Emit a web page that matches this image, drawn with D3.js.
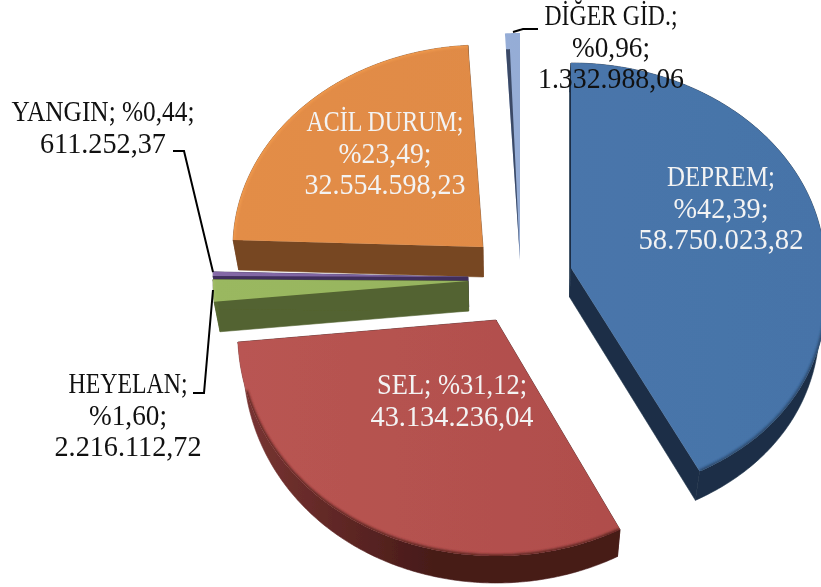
<!DOCTYPE html>
<html><head><meta charset="utf-8">
<script src="https://cdn.jsdelivr.net/npm/d3@7/dist/d3.min.js"></script>
<style>html,body{margin:0;padding:0;background:#fff}svg{display:block}
text{font-family:"Liberation Serif",serif;font-size:29px;text-anchor:middle}</style>
</head><body><svg id="c" width="821" height="587"></svg>
<script>
const categories=["DEPREM","SEL","HEYELAN","YANGIN","ACİL DURUM","DİĞER GİD."];
const percents=[42.39,31.12,1.60,0.44,23.49,0.96];
const amounts=["58.750.023,82","43.134.236,04","2.216.112,72","611.252,37","32.554.598,23","1.332.988,06"];
// layout of each exploded slice (not data): apex and quadrant radii
const layout=[
 {ax:571,ay:268,rx:254,ryT:205,ryB:229,q:.113,d:29,top:["#4b78ad","#4673a8"],wall:["#1b2f47","#1b2f47"],cut:"#1b2f47",bevel:"#24405f",bw:.8,bMin:.05},
 {ax:496,ay:320,rx:258,ryT:205,ryB:236,q:.05,d:27,top:["#b95552","#ac4b49"],wall:["#7a3533","#461a18"],cut:"#461a18",bevel:"#5f2523",bw:1,bMin:.3},
 {ax:468,ay:281,rx:255,ryT:205,ryB:222,q:0,d:30,top:["#9ab860","#93b05b"],wall:["#566731","#536330"],cut:"#536330",bevel:"#a9c46f",bw:.5,bMin:-1},
 {ax:468,ay:277,rx:255,ryT:150,ryB:222,q:0,d:30,top:["#8468a6","#6c5a96"],wall:["#3f2f5c","#3f2f5c"],cut:"#3f2f5c",bevel:"#9a82ba",bw:.4,bMin:-1},
 {ax:483,ay:247,rx:250,ryT:202,ryB:222,q:0,d:30,top:["#e38d47","#dd8844"],wall:["#774621","#774621"],cut:"#774621",bevel:"#f39c50",bw:.8,bMin:-1},
 {ax:520,ay:260,rx:250,ryT:227,ryB:227,q:0,d:0,top:["#9bb1d9","#8fa8d3"],wall:["#34435c","#34435c"],cut:"#3b4a66",bevel:"#9bb1d9",bw:0,bMin:-1}
];
const drawOrder=[5,4,3,2,1,0];
const labels=[
 {x:721,y:186,color:"#f3f3f3",widths:[108,95,165],lines:d=>[d.c+";",d.p+";",d.a]},
 {x:452,y:394,color:"#f3f3f3",widths:[150,163],lines:d=>[d.c+"; "+d.p+";",d.a]},
 {x:128,y:393,color:"#111",widths:[119,78,147],lines:d=>[d.c+";",d.p+";",d.a]},
 {x:103,y:121,color:"#111",widths:[183,126],lines:d=>[d.c+"; "+d.p+";",d.a]},
 {x:385,y:131,color:"#f3f3f3",widths:[157,93,161],lines:d=>[d.c+";",d.p+";",d.a]},
 {x:611,y:25,color:"#111",widths:[133,78,146],lines:d=>[d.c+";",d.p+";",d.a]}
];
const leaders=[
 [[173,151],[184,151],[213,272]],
 [[193,393],[204,393],[213,290]],
 [[513,32],[523,29],[538,29]]
];

const svg=d3.select("#c"), defs=svg.append("defs");
defs.append("filter").attr("id","soft").attr("filterUnits","userSpaceOnUse").attr("x",0).attr("y",0).attr("width",821).attr("height",587)
  .append("feGaussianBlur").attr("stdDeviation",1.3);
defs.append("filter").attr("id","aa").attr("filterUnits","userSpaceOnUse").attr("x",0).attr("y",0).attr("width",821).attr("height",587)
  .append("feGaussianBlur").attr("stdDeviation",.35);

const arcs=d3.pie().sort(null).value(d=>d)(percents);
const line=d3.line();
function proj(l,t){
  const u=Math.sin(t),v=-Math.cos(t);
  return [l.ax+l.rx*u*(1+(v>0?l.q:0)*v), l.ay+(v<0?l.ryT:l.ryB)*v];
}
// lower rim: shifted down and pulled slightly toward the vanishing column
const lower=(p,l)=>[p[0]+(500-p[0])*.021,p[1]+l.d];
function arcPts(l,a0,a1){
  const n=Math.max(8,Math.ceil((a1-a0)*90));
  return d3.range(n+1).map(i=>proj(l,a0+(a1-a0)*i/n));
}
arcs.forEach((a,i)=>{
  const g=defs.append("linearGradient").attr("id","top"+i).attr("gradientUnits","userSpaceOnUse");
  const w=defs.append("linearGradient").attr("id","wall"+i).attr("gradientUnits","userSpaceOnUse");
  const l=layout[i];
  g.attr("x1",l.ax-l.rx).attr("x2",l.ax+l.rx).attr("y1",0).attr("y2",0);
  w.attr("x1",l.ax-l.rx).attr("x2",l.ax-60).attr("y1",0).attr("y2",0);
  l.top.forEach((c,k)=>g.append("stop").attr("offset",k).attr("stop-color",c));
  l.wall.forEach((c,k)=>w.append("stop").attr("offset",k).attr("stop-color",c));
});

const pieG=svg.append("g").attr("filter","url(#aa)");
drawOrder.forEach(i=>{
  const a=arcs[i],l=layout[i],apex=[l.ax,l.ay];
  const pts=arcPts(l,a.startAngle,a.endAngle);
  const first=pts[0],last=pts[pts.length-1];
  const g=pieG.append("g");
  if(l.d>0){
    [first,last].forEach(p=>g.append("path")
      .attr("d",line([apex,p,lower(p,l),lower(apex,l)])+"Z").attr("fill",l.cut).attr("stroke",l.cut).attr("stroke-width",.6));
    g.append("path").attr("d",line(pts.concat(pts.map(p=>lower(p,l)).reverse()))+"Z")
      .attr("fill",`url(#wall${i})`).attr("stroke",`url(#wall${i})`).attr("stroke-width",.6);
  }
  const face=line([apex].concat(pts))+"Z";
  g.append("path").attr("d",face).attr("fill",`url(#top${i})`);
  if(l.bw>0){
    defs.append("clipPath").attr("id","clip"+i).append("path").attr("d",face);
    const rim=pts.filter(p=>(p[1]-l.ay)/l.ryB>=l.bMin);
    g.append("g").attr("clip-path",`url(#clip${i})`).append("path")
      .attr("d",line(rim)).attr("fill","none").attr("stroke",l.bevel)
      .attr("stroke-width",3.5).attr("stroke-opacity",l.bw).attr("filter","url(#soft)");
  }
  if(i===5){ // dark sliver along the thin slice's left side, stopping short of the rim
    const s=arcPts(l,a.startAngle,a.startAngle+(a.endAngle-a.startAngle)*.28)
      .map(p=>[apex[0]+(p[0]-apex[0])*.93,apex[1]+(p[1]-apex[1])*.93]);
    g.append("path").attr("d",line([apex].concat(s))+"Z").attr("fill",l.cut);
  }
});

svg.append("g").selectAll("path").data(leaders).join("path")
  .attr("d",d=>line(d)).attr("fill","none").attr("stroke","#000").attr("stroke-width",2);

const fmt=p=>"%"+p.toFixed(2).replace(".",",");
const lh=31.5;
labels.forEach((lb,i)=>{
  lb.lines({c:categories[i],p:fmt(percents[i]),a:amounts[i]}).forEach((s,k)=>
    svg.append("text").attr("fill",lb.color).attr("x",lb.x).attr("y",lb.y+k*lh)
      .attr("textLength",lb.widths[k]).attr("lengthAdjust","spacingAndGlyphs").text(s));
});
</script></body></html>
